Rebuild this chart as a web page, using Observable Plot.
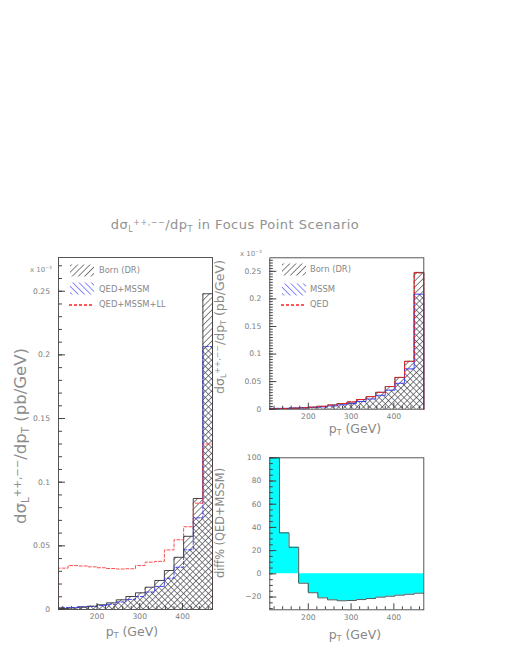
<!DOCTYPE html>
<html><head><meta charset="utf-8">
<script src="https://cdn.jsdelivr.net/npm/d3@7"></script>
<script src="https://cdn.jsdelivr.net/npm/@observablehq/plot@0.6"></script>
<style>
body{margin:0;background:#fff;}
#root{position:relative;width:507px;height:656px;overflow:hidden;font-family:"DejaVu Sans",sans-serif;color:#888;}
.abs{position:absolute;white-space:nowrap;line-height:1;}
.rot{transform:translate(-50%,-50%) rotate(-90deg);}
.ctr{transform:translate(-50%,-50%);}
.lft{transform:translate(0,-50%);}
.sb{font-size:62%;vertical-align:-0.3em;}
.sp{font-size:62%;vertical-align:0.55em;}
</style></head><body>
<svg width="0" height="0" style="position:absolute">
<defs>
<pattern id="hatchBorn" width="4.4" height="4.4" patternUnits="userSpaceOnUse" patternTransform="rotate(45)"><line x1="2.2" y1="-1" x2="2.2" y2="6" stroke="#333" stroke-width="0.6"/></pattern>
<pattern id="hatchMssm" width="4.4" height="4.4" patternUnits="userSpaceOnUse" patternTransform="rotate(-45)"><line x1="2.2" y1="-1" x2="2.2" y2="6" stroke="#36364a" stroke-width="0.6"/></pattern>
<pattern id="hatchMssmLeg" width="4.4" height="4.4" patternUnits="userSpaceOnUse" patternTransform="rotate(-45)"><line x1="2.2" y1="-1" x2="2.2" y2="6" stroke="#5a5aff" stroke-width="0.7"/></pattern>
</defs></svg>
<div id="root"></div>
<script>
// ---- data ----
const binEdges = [110,132.5,155,177.5,200,222.5,245,267.5,290,312.5,335,357.5,380,402.5,425,447.5,470];
// left panel (x 10^-3 pb/GeV)
const bornDR   = [0.0008,0.0012,0.0018,0.0026,0.0037,0.0052,0.0076,0.0102,0.0131,0.0175,0.0228,0.0306,0.0410,0.0575,0.0872,0.2480];
const qedMssm  = [0.0016,0.0016,0.0022,0.0024,0.0031,0.0041,0.0059,0.0079,0.0102,0.0137,0.0181,0.0246,0.0332,0.0469,0.0720,0.2066];
const qedMssmLL= [0.0325,0.0345,0.0342,0.0335,0.0328,0.0322,0.0318,0.0320,0.0345,0.0372,0.0378,0.0468,0.0548,0.0650,0.0835,0.1300];
// right top panel
const bornDR2  = [0.0008,0.0012,0.0018,0.0026,0.0037,0.0052,0.0076,0.0102,0.0131,0.0175,0.0228,0.0306,0.0410,0.0575,0.0868,0.2480];
const mssmOnly = [0.0015,0.0016,0.0021,0.0024,0.0031,0.0042,0.0060,0.0080,0.0103,0.0140,0.0185,0.0252,0.0345,0.0470,0.0730,0.2085];
const qedOnly  = [0.0008,0.0012,0.0018,0.0026,0.0037,0.0052,0.0076,0.0103,0.0132,0.0176,0.0229,0.0307,0.0412,0.0578,0.0868,0.2470];
// right bottom panel: diff% (QED+MSSM)
const diffPct  = [100,35.3,22.9,-8.1,-16.3,-20.7,-22.4,-23.2,-23.0,-22.2,-21.3,-20.1,-19.3,-18.4,-17.6,-16.7];
// ticks
const xMajor = [200,300,400];
const xMinor = [120,140,160,180,220,240,260,280,320,340,360,380,420,440,460];
const yMajorSigma = [0,0.05,0.1,0.15,0.2,0.25];
const yMajorDiff = [-20,0,20,40,60,80,100];
const legendLeft = ["Born (DR)","QED+MSSM","QED+MSSM+LL"];
const legendRight = ["Born (DR)","MSSM","QED"];

const root = document.getElementById("root");
const n = bornDR.length;
const bins = d3.range(n).map(i => ({x1: binEdges[i], x2: binEdges[i+1]}));
function stepPts(vals, closed = true) {
  const pts = vals.map((v,i) => ({x: binEdges[i], y: v}));
  pts.push({x: binEdges[n], y: vals[n-1]});
  if (closed) { pts.unshift({x: binEdges[0], y: 0}); pts.push({x: binEdges[n], y: 0}); }
  return pts;
}
const INK = "#444", LAB = "#7c7c7c";
function range(a, b, s) { return d3.range(Math.round((b - a) / s) + 1).map(k => +(a + k * s).toFixed(6)); }

function axesMarks(yMajor, yMinor, yFmt, ySizeMaj, ySizeMin) {
  return [
    Plot.axisY(yMinor, {tickSize: -ySizeMin, fill: "none", stroke: INK, label: null}),
    Plot.axisY(yMajor, {tickSize: -ySizeMaj, fill: "none", stroke: INK, label: null}),
    Plot.axisY(yMajor, {tickSize: 0, tickPadding: 8.5, fill: LAB, fontSize: 7.6, tickFormat: yFmt, label: null}),
    Plot.axisX(xMinor, {anchor: "bottom", tickSize: -3, fill: "none", stroke: INK, label: null}),
    Plot.axisX(xMajor, {anchor: "bottom", tickSize: -6, fill: "none", stroke: INK, label: null}),
    Plot.axisX(xMajor, {anchor: "bottom", tickSize: 0, tickPadding: 4.5, fill: LAB, fontSize: 7.6, label: null}),
    Plot.frame({stroke: INK, strokeWidth: 0.9})
  ];
}
const sigFmt = d => String(+d.toFixed(2));

function place(svg, left, top) {
  svg.style.position = "absolute"; svg.style.left = left + "px"; svg.style.top = top + "px";
  svg.style.background = "transparent"; svg.style.overflow = "visible";
  root.appendChild(svg);
}

// ---- left panel ----
const leftData = bins.map((b,i) => ({...b, born: bornDR[i], qm: qedMssm[i]}));
place(Plot.plot({
  width: 240, height: 380, marginLeft: 58, marginRight: 28, marginTop: 12, marginBottom: 16,
  style: {fontFamily: "DejaVu Sans", background: "transparent"},
  x: {domain: [110, 470]}, y: {domain: [0, 0.2765]},
  marks: [
    Plot.rectY(leftData, {x1: "x1", x2: "x2", y: "born", fill: "url(#hatchBorn)"}),
    Plot.rectY(leftData, {x1: "x1", x2: "x2", y: "qm", fill: "url(#hatchMssm)"}),
    Plot.line(stepPts(bornDR), {x: "x", y: "y", curve: "step-after", stroke: "#333", strokeWidth: 0.9}),
    Plot.line(stepPts(qedMssm), {x: "x", y: "y", curve: "step-after", stroke: "#3333ee", strokeWidth: 0.9, strokeDasharray: "3,2"}),
    Plot.line(stepPts(qedMssmLL), {x: "x", y: "y", curve: "step-after", stroke: "#ff3a3a", strokeWidth: 0.9, strokeDasharray: "3,2"}),
    ...axesMarks(yMajorSigma, range(0, 0.27, 0.01), sigFmt, 7, 4)
  ]
}), 0, 245);

// ---- right top panel ----
const rtData = bins.map((b,i) => ({...b, born: bornDR2[i], m: mssmOnly[i]}));
place(Plot.plot({
  width: 200, height: 180, marginLeft: 33.3, marginRight: 12.7, marginTop: 12.3, marginBottom: 16.3,
  style: {fontFamily: "DejaVu Sans", background: "transparent"},
  x: {domain: [110, 470]}, y: {domain: [0, 0.2745]},
  marks: [
    Plot.rectY(rtData, {x1: "x1", x2: "x2", y: "born", fill: "url(#hatchBorn)"}),
    Plot.rectY(rtData, {x1: "x1", x2: "x2", y: "m", fill: "url(#hatchMssm)"}),
    Plot.line(stepPts(bornDR2), {x: "x", y: "y", curve: "step-after", stroke: "#333", strokeWidth: 0.9}),
    Plot.line(stepPts(mssmOnly), {x: "x", y: "y", curve: "step-after", stroke: "#3333ee", strokeWidth: 0.9}),
    Plot.line(stepPts(qedOnly), {x: "x", y: "y", curve: "step-after", stroke: "#ff2020", strokeWidth: 1, strokeDasharray: "3,2"}),
    ...axesMarks(yMajorSigma, range(0, 0.27, 0.005), sigFmt, 7, 3.5)
  ]
}), 236, 245);

// ---- right bottom panel ----
place(Plot.plot({
  width: 200, height: 180, marginLeft: 33.3, marginRight: 12.7, marginTop: 12.3, marginBottom: 15.7,
  style: {fontFamily: "DejaVu Sans", background: "transparent"},
  x: {domain: [110, 470]}, y: {domain: [-31, 100]},
  marks: [
    Plot.areaY(stepPts(diffPct, false), {x: "x", y1: 0, y2: "y", curve: "step-after", fill: "#00ffff"}),
    Plot.line(stepPts(diffPct, false), {x: "x", y: "y", curve: "step-after", stroke: "#3a4a4a", strokeWidth: 0.9}),
    ...axesMarks(yMajorDiff, range(-30, 100, 5), d => d3.format("d")(d), 7, 3.5)
  ]
}), 236, 445);

// ---- texts ----
const sig = 'dσ<span class="sb">L</span><span class="sp">++,−−</span>/dp<span class="sb">T</span>';
const texts = [
  {h: sig + ' in Focus Point Scenario', x: 235, y: 226, s: 13, c: "ctr", ls: 0.5, col: "#929292"},
  {h: sig + ' (pb/GeV)', x: 22, y: 436, s: 16.5, c: "rot", col: "#8c8c8c"},
  {h: sig + ' (pb/GeV)', x: 221, y: 327, s: 12.6, c: "rot"},
  {h: 'diff% (QED+MSSM)', x: 221, y: 523, s: 11.4, c: "rot"},
  {h: 'p<span class="sb">T</span> (GeV)', x: 132, y: 633, s: 12.5, c: "ctr"},
  {h: 'p<span class="sb">T</span> (GeV)', x: 355, y: 430, s: 12.5, c: "ctr"},
  {h: 'p<span class="sb">T</span> (GeV)', x: 355, y: 636, s: 12.5, c: "ctr"},
  {h: 'x 10<span class="sp">−3</span>', x: 30, y: 270, s: 7, c: "lft"},
  {h: 'x 10<span class="sp">−3</span>', x: 240, y: 254, s: 7, c: "lft"},
];
for (const t of texts) {
  const d = document.createElement("div");
  d.className = "abs " + t.c;
  d.style.left = t.x + "px"; d.style.top = t.y + "px"; d.style.fontSize = t.s + "px";
  if (t.ls) d.style.letterSpacing = t.ls + "px";
  if (t.col) d.style.color = t.col;
  d.innerHTML = t.h;
  root.appendChild(d);
}

// ---- legends ----
function legend(x0, ys, labels, textX) {
  const kinds = ["born", "mssm", "red"];
  labels.forEach((lab, i) => {
    const s = d3.select(root).append("svg")
      .attr("width", 26).attr("height", 13)
      .style("position", "absolute").style("left", x0 + "px").style("top", (ys[i] - 6.5) + "px");
    if (kinds[i] === "red") {
      s.append("path").attr("d", "M0,7H24")
        .style("stroke", "rgb(255,32,32)").style("stroke-width", "1.5px").style("stroke-dasharray", "3,2").style("fill", "none");
    } else {
      s.append("rect").attr("x", 1).attr("y", 0.5).attr("width", 24).attr("height", 12)
        .attr("fill", kinds[i] === "born" ? "url(#hatchBorn)" : "url(#hatchMssmLeg)");
    }
    const d = document.createElement("div");
    d.className = "abs lft"; d.style.left = textX + "px"; d.style.top = ys[i] + "px"; d.style.fontSize = "8.4px";
    d.textContent = lab;
    root.appendChild(d);
  });
}
legend(69, [270, 288.5, 304], legendLeft, 99);
legend(281, [269, 289, 304], legendRight, 310);
</script>
</body></html>
